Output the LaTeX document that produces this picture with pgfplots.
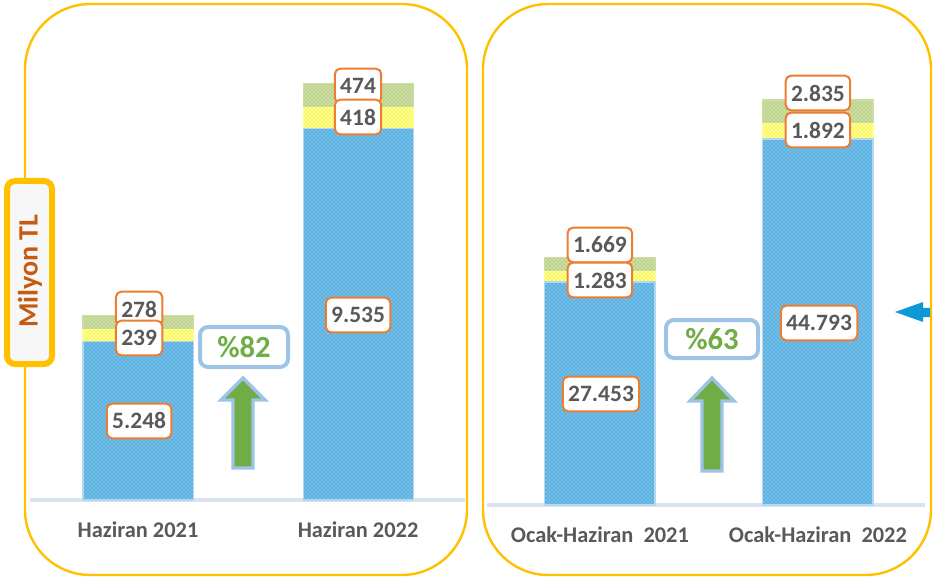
\documentclass[border=0pt]{standalone}
\usepackage{pgfplots}
\pgfplotsset{compat=1.18}
\usepackage{fontspec}
\setmainfont{Carlito}
\usetikzlibrary{patterns}
\definecolor{gold}{HTML}{FFC000}
\definecolor{orng}{HTML}{ED7D31}
\definecolor{txtgray}{HTML}{595959}
\definecolor{basecol}{HTML}{D9E3F2}
\definecolor{pctblue}{HTML}{9DC3E6}
\definecolor{grn}{HTML}{70AD47}
\definecolor{brn}{HTML}{C55A11}
\definecolor{arrblue}{HTML}{0E98D4}
\definecolor{bluefill}{HTML}{74BEE8}
\definecolor{bluedot}{HTML}{0A86C8}
\definecolor{blueedge}{HTML}{B4D6EF}
\definecolor{yelfill}{HTML}{FFFF8C}
\definecolor{yeldot}{HTML}{EBD800}
\definecolor{grnfill}{HTML}{CCDDA2}
\definecolor{grndot}{HTML}{93B552}
\pgfplotsset{
  mybar/.style n args={3}{fill=#1, draw=#3, line width=0.8pt,
     postaction={pattern=crosshatch dots, pattern color=#2}},
  panel/.style={
    scale only axis, anchor=south west,
    ybar stacked,
    axis y line=none, axis x line*=bottom,
    x axis line style={draw=basecol, line width=3pt, -},
    xtick={0,1}, ytick=\empty, major tick length=0pt,
    xticklabel style={font=\bfseries\fontsize{16.8}{18}\selectfont, text=txtgray, anchor=base, yshift=-27.75pt},
  },
}
\tikzset{
  vlab/.style={draw=orng, line width=1.5pt, fill=white, rounded corners=4pt,
     minimum height=26pt, inner xsep=4pt, inner ysep=0pt,
     font=\bfseries\fontsize{17.6}{19}\selectfont, text=txtgray},
}
\begin{document}
\begin{tikzpicture}
\useasboundingbox (0,0) rectangle (699.75pt,432pt);
\begin{scope}[x=0.75pt,y=-0.75pt,shift={(0pt,432pt)}]
  \draw[gold, line width=1.8pt, rounded corners=49pt] (25,4) rectangle (467,575);
  \draw[gold, line width=1.8pt, rounded corners=49pt] (483,4) rectangle (931,575);
\end{scope}

\begin{axis}[panel,
  at={(22.5pt,57pt)}, width=326.25pt, height=360pt,
  xmin=-0.491, xmax=1.486, ymin=2052, ymax=11710, bar width=0.5,
  xticklabels={Haziran 2021, Haziran 2022}]
\addplot[mybar={bluefill}{bluedot}{blueedge}] coordinates {(0,5248) (1,9535)};
\addplot[mybar={yelfill}{yeldot}{yelfill}] coordinates {(0,239) (1,418)};
\addplot[mybar={grnfill}{grndot}{grnfill}] coordinates {(0,278) (1,474)};
\coordinate (a1) at (axis cs:0.005,3642);
\coordinate (a2) at (axis cs:0.005,5312);
\coordinate (a3) at (axis cs:0.005,5895);
\coordinate (b1) at (axis cs:1,5774);
\coordinate (b2) at (axis cs:1,9758);
\coordinate (b3) at (axis cs:1,10382);
\end{axis}

\begin{axis}[panel,
  at={(365.25pt,53.25pt)}, width=328.5pt, height=363.75pt,
  xmin=-0.518, xmax=1.491, ymin=412, ymax=59221, bar width=0.505,
  xticklabels={Ocak-Haziran~~2021, Ocak-Haziran~~2022}]
\addplot[mybar={bluefill}{bluedot}{blueedge}] coordinates {(0,27453) (1,44793)};
\addplot[mybar={yelfill}{yeldot}{yelfill}] coordinates {(0,1283) (1,1892)};
\addplot[mybar={grnfill}{grndot}{grnfill}] coordinates {(0,1669) (1,2835)};
\coordinate (c1) at (axis cs:0.005,13872);
\coordinate (c2) at (axis cs:0,27695);
\coordinate (c3) at (axis cs:0,31939);
\coordinate (d1) at (axis cs:1.005,22481);
\coordinate (d2) at (axis cs:1,45883);
\coordinate (d3) at (axis cs:1,50370);
\end{axis}

\node[vlab] at (a1) {5.248};
\node[vlab] at (a3) {278};
\node[vlab] at (a2) {239};
\node[vlab] at (b1) {9.535};
\node[vlab] at (b3) {474};
\node[vlab] at (b2) {418};
\node[vlab] at (c1) {27.453};
\node[vlab] at (c3) {1.669};
\node[vlab] at (c2) {1.283};
\node[vlab] at (d1) {44.793};
\node[vlab] at (d3) {2.835};
\node[vlab] at (d2) {1.892};

\begin{scope}[x=0.75pt,y=-0.75pt,shift={(0pt,432pt)}]
  % Milyon TL box
  \draw[gold, line width=4.5pt, fill=black!3, rounded corners=6pt] (7,181) rectangle (52,364);
  \node[rotate=90, text=brn, font=\bfseries\fontsize{21}{24}\selectfont] at (30,271) {Milyon TL};
  % arrows
  \draw[pctblue, line width=2.5pt, fill=grn, line join=miter]
    (243,378) -- (221,400) -- (233,400) -- (233,468) -- (253,468) -- (253,400) -- (265,400) -- cycle;
  \draw[pctblue, line width=2.5pt, fill=grn, line join=miter]
    (712,378) -- (690,401) -- (702,401) -- (702,471) -- (722,471) -- (722,401) -- (734,401) -- cycle;
  % percent boxes
  \draw[pctblue, line width=3pt, fill=white, rounded corners=6pt] (200,327) rectangle (288,367);
  \node[text=grn, font=\bfseries\fontsize{23}{25}\selectfont] at (244,347) {\%82};
  \draw[pctblue, line width=3pt, fill=white, rounded corners=6pt] (666,320) rectangle (758,358);
  \node[text=grn, font=\bfseries\fontsize{23}{25}\selectfont] at (712,339) {\%63};
  % blue arrow
  \fill[arrblue] (895,312) -- (923,302) -- (923,308) -- (930,308) -- (930,317) -- (923,317) -- (923,322) -- cycle;
\end{scope}
\end{tikzpicture}
\end{document}
